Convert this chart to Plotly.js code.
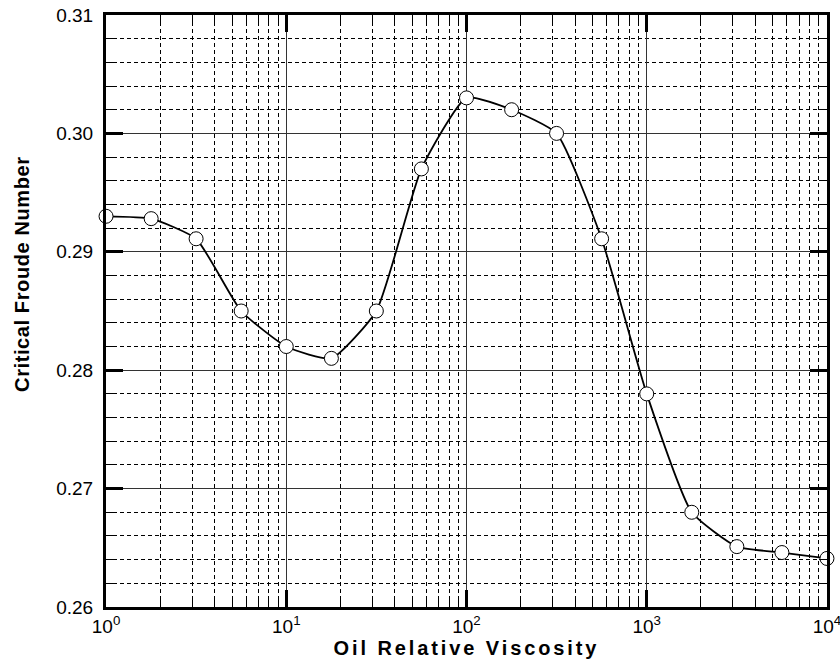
<!DOCTYPE html>
<html>
<head>
<meta charset="utf-8">
<script src="https://cdn.plot.ly/plotly-3.0.1.min.js"></script>
<style>
html,body{margin:0;padding:0;background:#fff;}
#chart{width:840px;height:669px;}
.xtitle{letter-spacing:2.9px;}
.annotation-text{letter-spacing:0.6px;}
</style>
</head>
<body>
<div id="chart"></div>
<script>
// Data
const viscosity = [1, 1.78, 3.16, 5.62, 10, 17.8, 31.6, 56.2, 100, 178, 316, 562, 1000, 1778, 3162, 5623, 10000];
const froude = [0.2930, 0.2928, 0.2911, 0.2850, 0.2820, 0.2810, 0.2850, 0.2970, 0.3030, 0.3020, 0.3000, 0.2911, 0.2780, 0.2680, 0.2651, 0.2646, 0.2641];

const xTickVals = [1, 10, 100, 1000, 10000];
const xTickText = ['10<sup>0</sup>', '10<sup>1</sup>', '10<sup>2</sup>', '10<sup>3</sup>', '10<sup>4</sup>'];
const xMinorVals = [];
for (const d of [1, 10, 100, 1000]) {
  for (const m of [2, 3, 4, 5, 6, 7, 8, 9]) xMinorVals.push(d * m);
}
const xTitle = 'Oil Relative Viscosity';
const yTitle = 'Critical Froude Number';

const trace = {
  x: viscosity,
  y: froude,
  type: 'scatter',
  mode: 'lines+markers',
  line: {color: '#000', width: 1.8, shape: 'spline', smoothing: 0.5},
  marker: {symbol: 'circle', size: 14, color: '#fff', line: {color: '#000', width: 1}},
  cliponaxis: false,
  showlegend: false
};

const font = {family: '"Liberation Sans", Arial, sans-serif', color: '#000'};

const layout = {
  width: 840,
  height: 669,
  margin: {l: 106, r: 13, t: 15, b: 62},
  paper_bgcolor: '#fff',
  plot_bgcolor: '#fff',
  font: Object.assign({size: 17}, font),
  xaxis: {
    type: 'log',
    range: [-0.0002, 4.0002],
    tickmode: 'array',
    tickvals: xTickVals,
    ticktext: xTickText,
    ticklabeloverflow: 'allow',
    ticks: 'inside',
    ticklen: 17,
    tickwidth: 3,
    tickcolor: '#000',
    showline: true,
    linewidth: 3,
    linecolor: '#000',
    mirror: 'allticks',
    showgrid: true,
    gridcolor: '#333',
    gridwidth: 1,
    zeroline: false,
    tickfont: Object.assign({size: 19}, font),
    minor: {
      tickmode: 'array',
      tickvals: xMinorVals,
      ticks: 'inside',
      ticklen: 8,
      tickwidth: 1,
      tickcolor: '#000',
      showgrid: true,
      gridcolor: '#000',
      gridwidth: 1,
      griddash: '4px,3px'
    },
    title: {
      text: xTitle,
      font: Object.assign({size: 20, weight: 'bold'}, font),
      standoff: 4
    }
  },
  yaxis: {
    range: [0.26, 0.31],
    tickmode: 'linear',
    tick0: 0.26,
    dtick: 0.01,
    tickformat: '.2f',
    ticks: 'inside',
    ticklen: 17,
    tickwidth: 3,
    tickcolor: '#000',
    showline: true,
    linewidth: 3,
    linecolor: '#000',
    mirror: 'allticks',
    showgrid: true,
    gridcolor: '#333',
    gridwidth: 1,
    zeroline: false,
    ticklabelstandoff: 6,
    tickfont: Object.assign({size: 19}, font),
    minor: {
      tickmode: 'linear',
      dtick: 0.002,
      ticks: 'inside',
      ticklen: 8,
      tickwidth: 1,
      tickcolor: '#000',
      showgrid: true,
      gridcolor: '#000',
      gridwidth: 1,
      griddash: '4px,3px'
    }
  },
  annotations: [{
    text: yTitle,
    xref: 'paper', yref: 'paper',
    x: -0.1165, y: 0.561,
    xanchor: 'center', yanchor: 'middle',
    textangle: -90,
    showarrow: false,
    font: Object.assign({size: 20, weight: 'bold'}, font)
  }]
};

Plotly.newPlot('chart', [trace], layout, {displayModeBar: false, staticPlot: true});
</script>
</body>
</html>
